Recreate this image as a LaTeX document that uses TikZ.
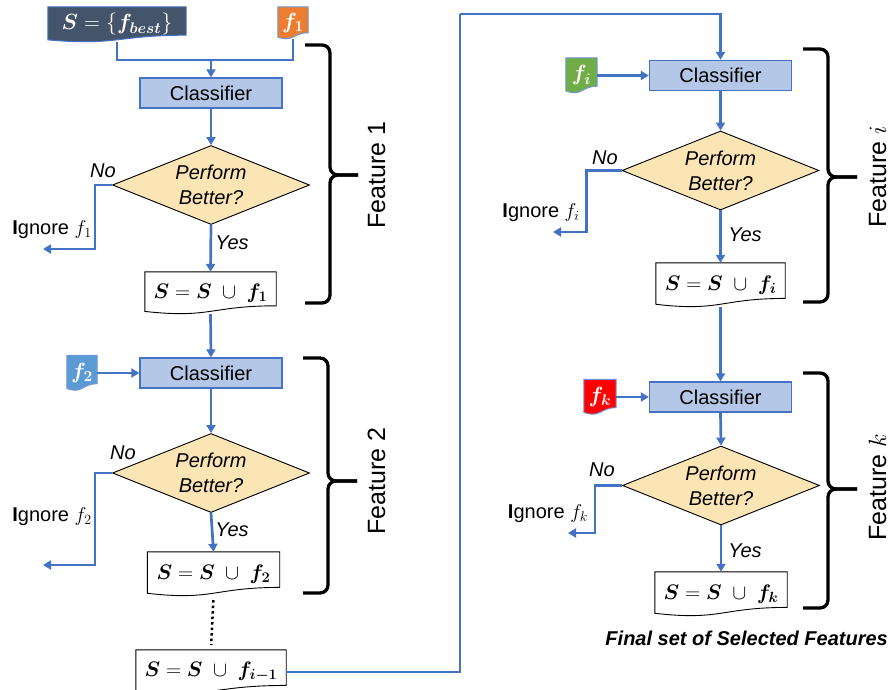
\RequirePackage{fix-cm}
\documentclass[tikz,border=0pt]{standalone}
\usepackage{amsmath,bm}
\usepackage{fontspec}
\setmainfont{Liberation Sans}
\usetikzlibrary{shapes.geometric,arrows.meta,calc,backgrounds}

\definecolor{cblue}{HTML}{4472C4}
\definecolor{clffill}{HTML}{B4C7E7}
\definecolor{decfill}{HTML}{FCE5B5}
\definecolor{slate}{HTML}{44546A}
\definecolor{forange}{HTML}{ED7D31}
\definecolor{fblue}{HTML}{5B9BD5}
\definecolor{fgreen}{HTML}{70AD47}
\definecolor{fred}{HTML}{FF0000}
\definecolor{docedge}{HTML}{6F94D6}

% Flow-chart "document" outline (flat top, wavy bottom) around a node
\newcommand\docshape[2]{%
  \draw[#2] (#1.north west) -- (#1.north east)
    -- ($(#1.north east)!0.802!(#1.south east)$)
    .. controls ($(#1.north)!0.802!(#1.south)$) and ($(#1.north)!1.107!(#1.south)$)
    .. ($(#1.north west)!0.934!(#1.south west)$) -- cycle;}

% Curly brace: stubs at x0, spine at x1, tip at (tx,ty)
\newcommand\featbrace[6]{%
  \draw[braceline] (#1,#3) -- (#2,#3) -- (#2,#6) -- (#5,#6);
  \draw[braceline] (#1,#4) -- (#2,#4) -- (#2,#6) -- (#5,#6);}

\tikzset{
  line/.style={draw=cblue, line width=2.7pt},
  conn/.style={line, -{Triangle[length=8pt,width=9pt]}},
  clf/.style={draw=cblue, line width=1.3pt, fill=clffill, minimum width=142pt,
    minimum height=30pt, inner sep=0, font=\fontsize{20}{24}\selectfont},
  dec/.style={diamond, draw=black, line width=0.9pt, fill=decfill,
    minimum width=197pt, minimum height=79pt, inner sep=0},
  dectext/.style={align=center, inner sep=0, font=\fontsize{20}{25}\selectfont\itshape},
  lbl/.style={inner sep=0, font=\fontsize{20}{24}\selectfont\itshape},
  ign/.style={inner sep=0, font=\fontsize{20}{24}\selectfont},
  uni/.style={inner sep=0, font=\fontsize{21}{24}\selectfont},
  feat/.style={rotate=90, anchor=base, inner sep=0, font=\fontsize{25}{30}\selectfont},
  braceline/.style={line width=3.3pt, rounded corners=8pt},
  docout/.style={draw=docedge, line width=1pt},
  udoc/.style={fill=white, draw=black, line width=0.9pt},
}

\begin{document}
\begin{tikzpicture}[x=1pt,y=-1pt]
\useasboundingbox (0,0) rectangle (891,690);

% ---------- start ----------
\node[minimum width=138pt, minimum height=35pt, inner sep=0, text=white,
  font=\fontsize{22}{24}\selectfont] (sbest) at (117,24.5)
  {$\bm{S}=\{\bm{f}_{\bm{best}}\}$};
\node[minimum width=30pt, minimum height=32pt, inner sep=0, text=white,
  font=\fontsize{22}{24}\selectfont] (f1) at (293,23) {$\bm{f_1}$};
\coordinate (j1) at (211,60);

% ---------- feature 1 ----------
\node[clf] (c1) at (211,93) {Classifier};
\node[dec] (d1) at (211,185) {};
\node[dectext] (t1) at (d1.center) {Perform\\Better?};
\node[lbl] (no1) at (103,171) {No};
\node[lbl] (yes1) at (232,243) {Yes};
\coordinate (n1) at (43,249);
\node[ign] (ig1) at (52,230) {{\bfseries I}gnore $f_1$};
\node[minimum width=131pt, minimum height=42pt, inner sep=0, uni] (u1) at (210.5,293)
  {$\bm{S}=\bm{S}\;\cup\;\bm{f_1}$};

% ---------- feature 2 ----------
\node[minimum width=30pt, minimum height=35pt, inner sep=0, text=white,
  font=\fontsize{22}{24}\selectfont] (f2) at (82,373) {$\bm{f_2}$};
\node[clf] (c2) at (211,373) {Classifier};
\node[dec] (d2) at (211,473) {};
\node[dectext] (t2) at (d2.center) {Perform\\Better?};
\node[lbl] (no2) at (123,453) {No};
\node[lbl] (yes2) at (232,530) {Yes};
\coordinate (n2) at (43,565);
\node[ign] (ig2) at (52,517) {{\bfseries I}gnore $f_2$};
\node[minimum width=132pt, minimum height=44pt, inner sep=0, uni] (u2) at (213.5,574)
  {$\bm{S}=\bm{S}\;\cup\;\bm{f_2}$};
\node[minimum width=150pt, minimum height=44pt, inner sep=0, uni] (u3) at (211,672)
  {$\bm{S}=\bm{S}\;\cup\;\bm{f_{i-1}}$};
\coordinate (bend) at (460,14);

% ---------- feature i ----------
\node[minimum width=31pt, minimum height=35pt, inner sep=0, text=white,
  font=\fontsize{22}{24}\selectfont] (fi) at (581.5,75.5) {$\bm{f_i}$};
\node[clf] (ci) at (720.5,75.5) {Classifier};
\node[dec] (di) at (720.5,170.5) {};
\node[dectext] (ti) at (di.center) {Perform\\Better?};
\node[lbl] (noi) at (605,158) {No};
\node[lbl] (yesi) at (745,235) {Yes};
\coordinate (ni) at (553,232);
\node[ign] (igi) at (541,213) {{\bfseries I}gnore $f_i$};
\node[minimum width=129pt, minimum height=44pt, inner sep=0, uni] (ui) at (720.5,285)
  {$\bm{S}=\bm{S}\;\cup\;\bm{f_i}$};

% ---------- feature k ----------
\node[minimum width=32pt, minimum height=35pt, inner sep=0, text=white,
  font=\fontsize{22}{24}\selectfont] (fk) at (600,397) {$\bm{f_k}$};
\node[clf] (ck) at (720.5,397) {Classifier};
\node[dec] (dk) at (721,485.5) {};
\node[dectext] (tk) at (dk.center) {Perform\\Better?};
\node[lbl] (nok) at (602,470) {No};
\node[lbl] (yesk) at (745,551) {Yes};
\coordinate (nk) at (568,533);
\node[ign] (igk) at (548,514) {{\bfseries I}gnore $f_k$};
\node[minimum width=132pt, minimum height=44pt, inner sep=0, uni] (uk) at (721,594)
  {$\bm{S}=\bm{S}\;\cup\;\bm{f_k}$};

\node[anchor=east, inner sep=0, font=\fontsize{20}{24}\selectfont\bfseries\itshape]
  (final) at (888,638) {Final set of Selected Features};

% ---------- document shapes ----------
\begin{pgfonlayer}{background}
  \docshape{sbest}{fill=slate, draw=cblue, line width=1pt}
  \docshape{f1}{fill=forange, docout}
  \docshape{f2}{fill=fblue, docout}
  \docshape{fi}{fill=fgreen, docout}
  \docshape{fk}{fill=fred, docout}
  \docshape{u1}{udoc}
  \docshape{u2}{udoc}
  \docshape{u3}{udoc}
  \docshape{ui}{udoc}
  \docshape{uk}{udoc}
\end{pgfonlayer}

% ---------- connectors ----------
\draw[line] (sbest.south) |- (j1) -| (f1.south);
\draw[conn] (j1) -- (c1.north);
\draw[conn] (c1.south) -- (d1.north);
\draw[conn] (d1.west) -- ++(-17,0) |- (n1);
\draw[conn] (d1.south) -- (u1.north);
\draw[conn] (u1.south) -- (c2.north);

\draw[conn] (f2.east) -- (c2.west);
\draw[conn] (c2.south) -- (d2.north);
\draw[conn] (d2.west) -- ++(-17,0) |- (n2);
\draw[conn] (d2.south) -- (u2.north);
\draw[line width=2.5pt, dash pattern=on 2.5pt off 3pt, shorten <=4pt, shorten >=5pt]
  (u2.south) -- (u3.north);
\draw[line] (u3.east) -| (bend);
\draw[conn] (bend) -| (ci.north);

\draw[conn] (fi.east) -- (ci.west);
\draw[conn] (ci.south) -- (di.north);
\draw[conn] (di.west) -- ++(-35,0) |- (ni);
\draw[conn] (di.south) -- (ui.north);
\draw[conn] (ui.south) -- (ck.north);

\draw[conn] (fk.east) -- (ck.west);
\draw[conn] (ck.south) -- (dk.north);
\draw[conn] (dk.west) -- ++(-27,0) |- (nk);
\draw[conn] (dk.south) -- (uk.north);

% ---------- braces and feature labels ----------
\featbrace{305}{330}{45}{303}{358}{175}
\featbrace{303}{328}{358}{593}{357}{481}
\featbrace{803}{828}{49}{302}{857}{177}
\featbrace{803}{828}{373}{608}{857}{489}
\node[feat] (lf1) at (385,175) {Feature 1};
\node[feat] (lf2) at (385,481) {Feature 2};
\node[feat] (lfi) at (886,177) {Feature $i$};
\node[feat] (lfk) at (886,487) {Feature $k$};
\end{tikzpicture}
\end{document}
